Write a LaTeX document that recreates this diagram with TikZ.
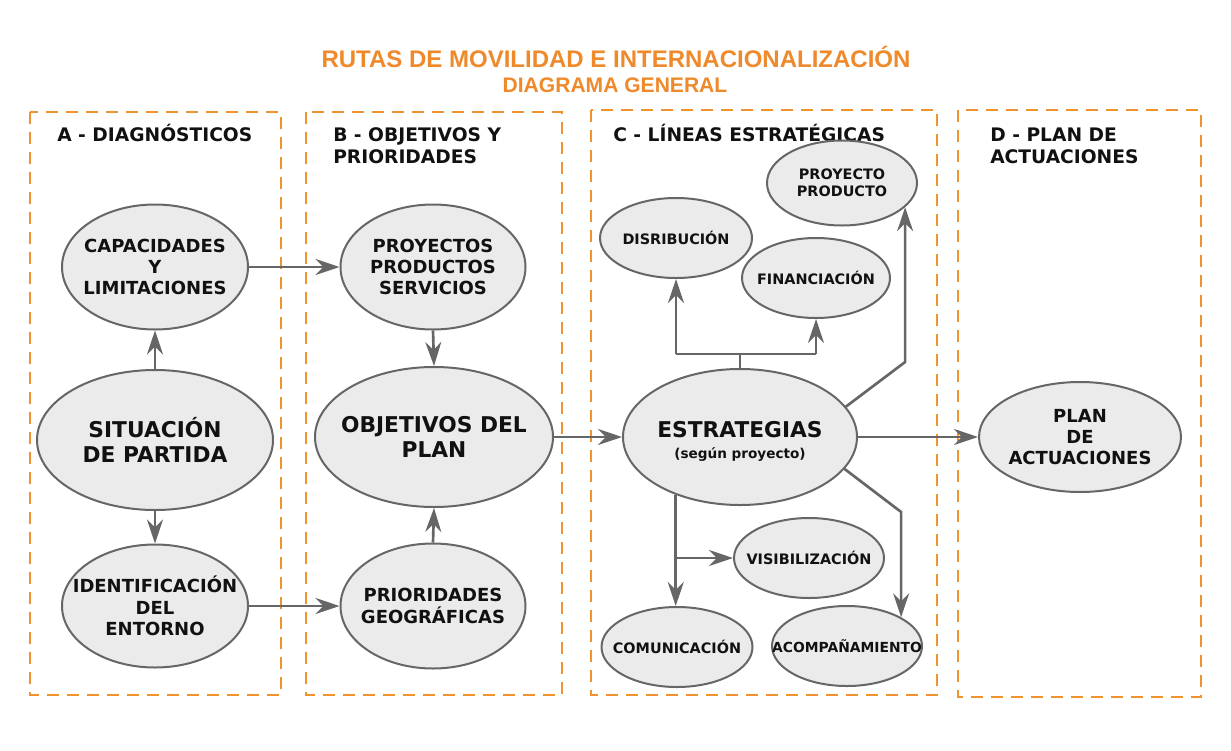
\documentclass[tikz,border=0pt]{standalone}
\usepackage{fontspec}
\setmainfont{DejaVu Sans}
\newfontfamily\titlefont{Liberation Sans}
\usetikzlibrary{arrows.meta,shapes.geometric,calc}
\definecolor{orng}{HTML}{F0922E}
\definecolor{ttl}{HTML}{EE8A2B}
\definecolor{lgray}{HTML}{EBEBEB}
\definecolor{dgray}{HTML}{666666}
\definecolor{txt}{HTML}{111111}
\begin{document}
\begin{tikzpicture}[x=0.75pt,y=-0.75pt,
  zone/.style={draw=orng,line width=1.8pt,dash pattern=on 9pt off 6pt},
  ell/.style 2 args={ellipse,draw=dgray,fill=lgray,line width=1.5pt,minimum width=#1,minimum height=#2,inner sep=0pt},
  med/.style={font=\bfseries\fontsize{13.5}{16}\selectfont,align=center,text=txt},
  big/.style={font=\bfseries\fontsize{16.3}{18.75}\selectfont,align=center,text=txt},
  sml/.style={font=\bfseries\fontsize{10.8}{12.75}\selectfont,align=center,text=txt},
  hdr/.style={font=\bfseries\fontsize{14}{16}\selectfont,anchor=base west,inner sep=0pt,text=txt},
  ttlA/.style={font=\titlefont\bfseries\fontsize{18}{21}\selectfont,anchor=base,inner sep=0pt,text=ttl},
  ln/.style={draw=dgray,line width=2pt},
  arr/.style={ln,-{Stealth[length=18pt,width=12pt,inset=6pt]}}
]
\useasboundingbox[fill=white] (0,0) rectangle (1231,750);

% title
\node[ttlA] (t1) at (616,67) {RUTAS DE MOVILIDAD E INTERNACIONALIZACIÓN};
\node[ttlA,font=\titlefont\bfseries\fontsize{15.8}{18}\selectfont] (t2) at (615,92) {DIAGRAMA GENERAL};

% zones
\draw[zone] (30,112) rectangle (281,695);
\draw[zone] (306,112) rectangle (562,695);
\draw[zone] (591,110) rectangle (937,695);
\draw[zone] (958,110) rectangle (1201,697);

% headers
\node[hdr] (hA) at (57,141) {A - DIAGNÓSTICOS};
\node[hdr] (hB1) at (333,141) {B - OBJETIVOS Y};
\node[hdr] (hB2) at (333,163) {PRIORIDADES};
\node[hdr] (hC) at (613,141) {C - LÍNEAS ESTRATÉGICAS};
\node[hdr] (hD1) at (990,141) {D - PLAN DE};
\node[hdr] (hD2) at (990,163) {ACTUACIONES};

% column A
\node[ell={139.5pt}{93.75pt},label={[med]center:CAPACIDADES\\Y\\LIMITACIONES}] (cap) at (155,267) {};
\node[ell={177pt}{105pt},label={[big]center:SITUACIÓN\\DE PARTIDA}] (sit) at (155,440) {};
\node[ell={139.5pt}{92.25pt},label={[med]center:IDENTIFICACIÓN\\DEL\\ENTORNO}] (ident) at (155,606) {};

% column B
\node[ell={138.75pt}{93.75pt},label={[med]center:PROYECTOS\\PRODUCTOS\\SERVICIOS}] (proy) at (433,267) {};
\node[ell={178.5pt}{105pt},label={[big]center:OBJETIVOS DEL\\PLAN}] (obj) at (434,437) {};
\node[ell={138.75pt}{93.75pt},label={[med]center:PRIORIDADES\\GEOGRÁFICAS}] (prior) at (433,606) {};

% column C
\node[ell={175.5pt}{102pt},label={[big,yshift=-3.5pt]center:ESTRATEGIAS\\[-3pt]{\fontsize{10.2}{12}\selectfont(según proyecto)}}] (est) at (740,437) {};
\node[ell={112.5pt}{63.75pt},label={[sml]center:PROYECTO\\PRODUCTO}] (pp) at (842,183) {};
\node[ell={114pt}{60pt},label={[sml]center:DISRIBUCIÓN}] (dis) at (676,238) {};
\node[ell={111pt}{60pt},label={[sml]center:FINANCIACIÓN}] (fin) at (816,278) {};
\node[ell={112.5pt}{60pt},label={[sml]center:VISIBILIZACIÓN}] (vis) at (809,558) {};
\node[ell={113.25pt}{60pt},label={[sml]center:COMUNICACIÓN}] (com) at (677,647) {};
\node[ell={112.5pt}{60pt},label={[sml,font=\bfseries\fontsize{10.4}{12.75}\selectfont]center:ACOMPAÑAMIENTO}] (acomp) at (847,646) {};

% column D
\node[ell={151.5pt}{82.5pt},label={[med]center:PLAN\\DE\\ACTUACIONES}] (plan) at (1080,437) {};

% connectors
\draw[arr] (cap.east) -- (proy.west);
\draw[arr] (sit.north) -- (cap.south);
\draw[arr] (sit.south) -- (ident.north);
\draw[arr] (ident.east) -- (prior.west);
\draw[arr] (proy.south) -- (obj.north);
\draw[arr] (prior.north) -- (obj.south);
\draw[arr] (obj.east) -- (est.west);
\draw[arr] (est.east) -- (plan.west);

\coordinate (bar) at (740,354);
\coordinate (barL) at (dis.south |- bar);
\coordinate (barR) at (fin.south |- bar);
\draw[ln] (est.north) -- (bar);
\draw[ln] (barL) -- (barR);
\draw[arr] (barL) -- (dis.south);
\draw[arr] (barR) -- (fin.south);

\coordinate (kpp) at (0,362);
\draw[arr] (est.16) -- (pp.-21 |- kpp) -- (pp.-21);
\coordinate (kac) at (0,512);
\draw[arr] (est.-17) -- (acomp.28 |- kac) -- (acomp.28);
\draw[arr] (est.222) -- (est.222 |- com.north);
\coordinate (kv) at (est.222 |- vis.west);
\draw[arr] (kv) -- (vis.west);
\end{tikzpicture}
\end{document}
